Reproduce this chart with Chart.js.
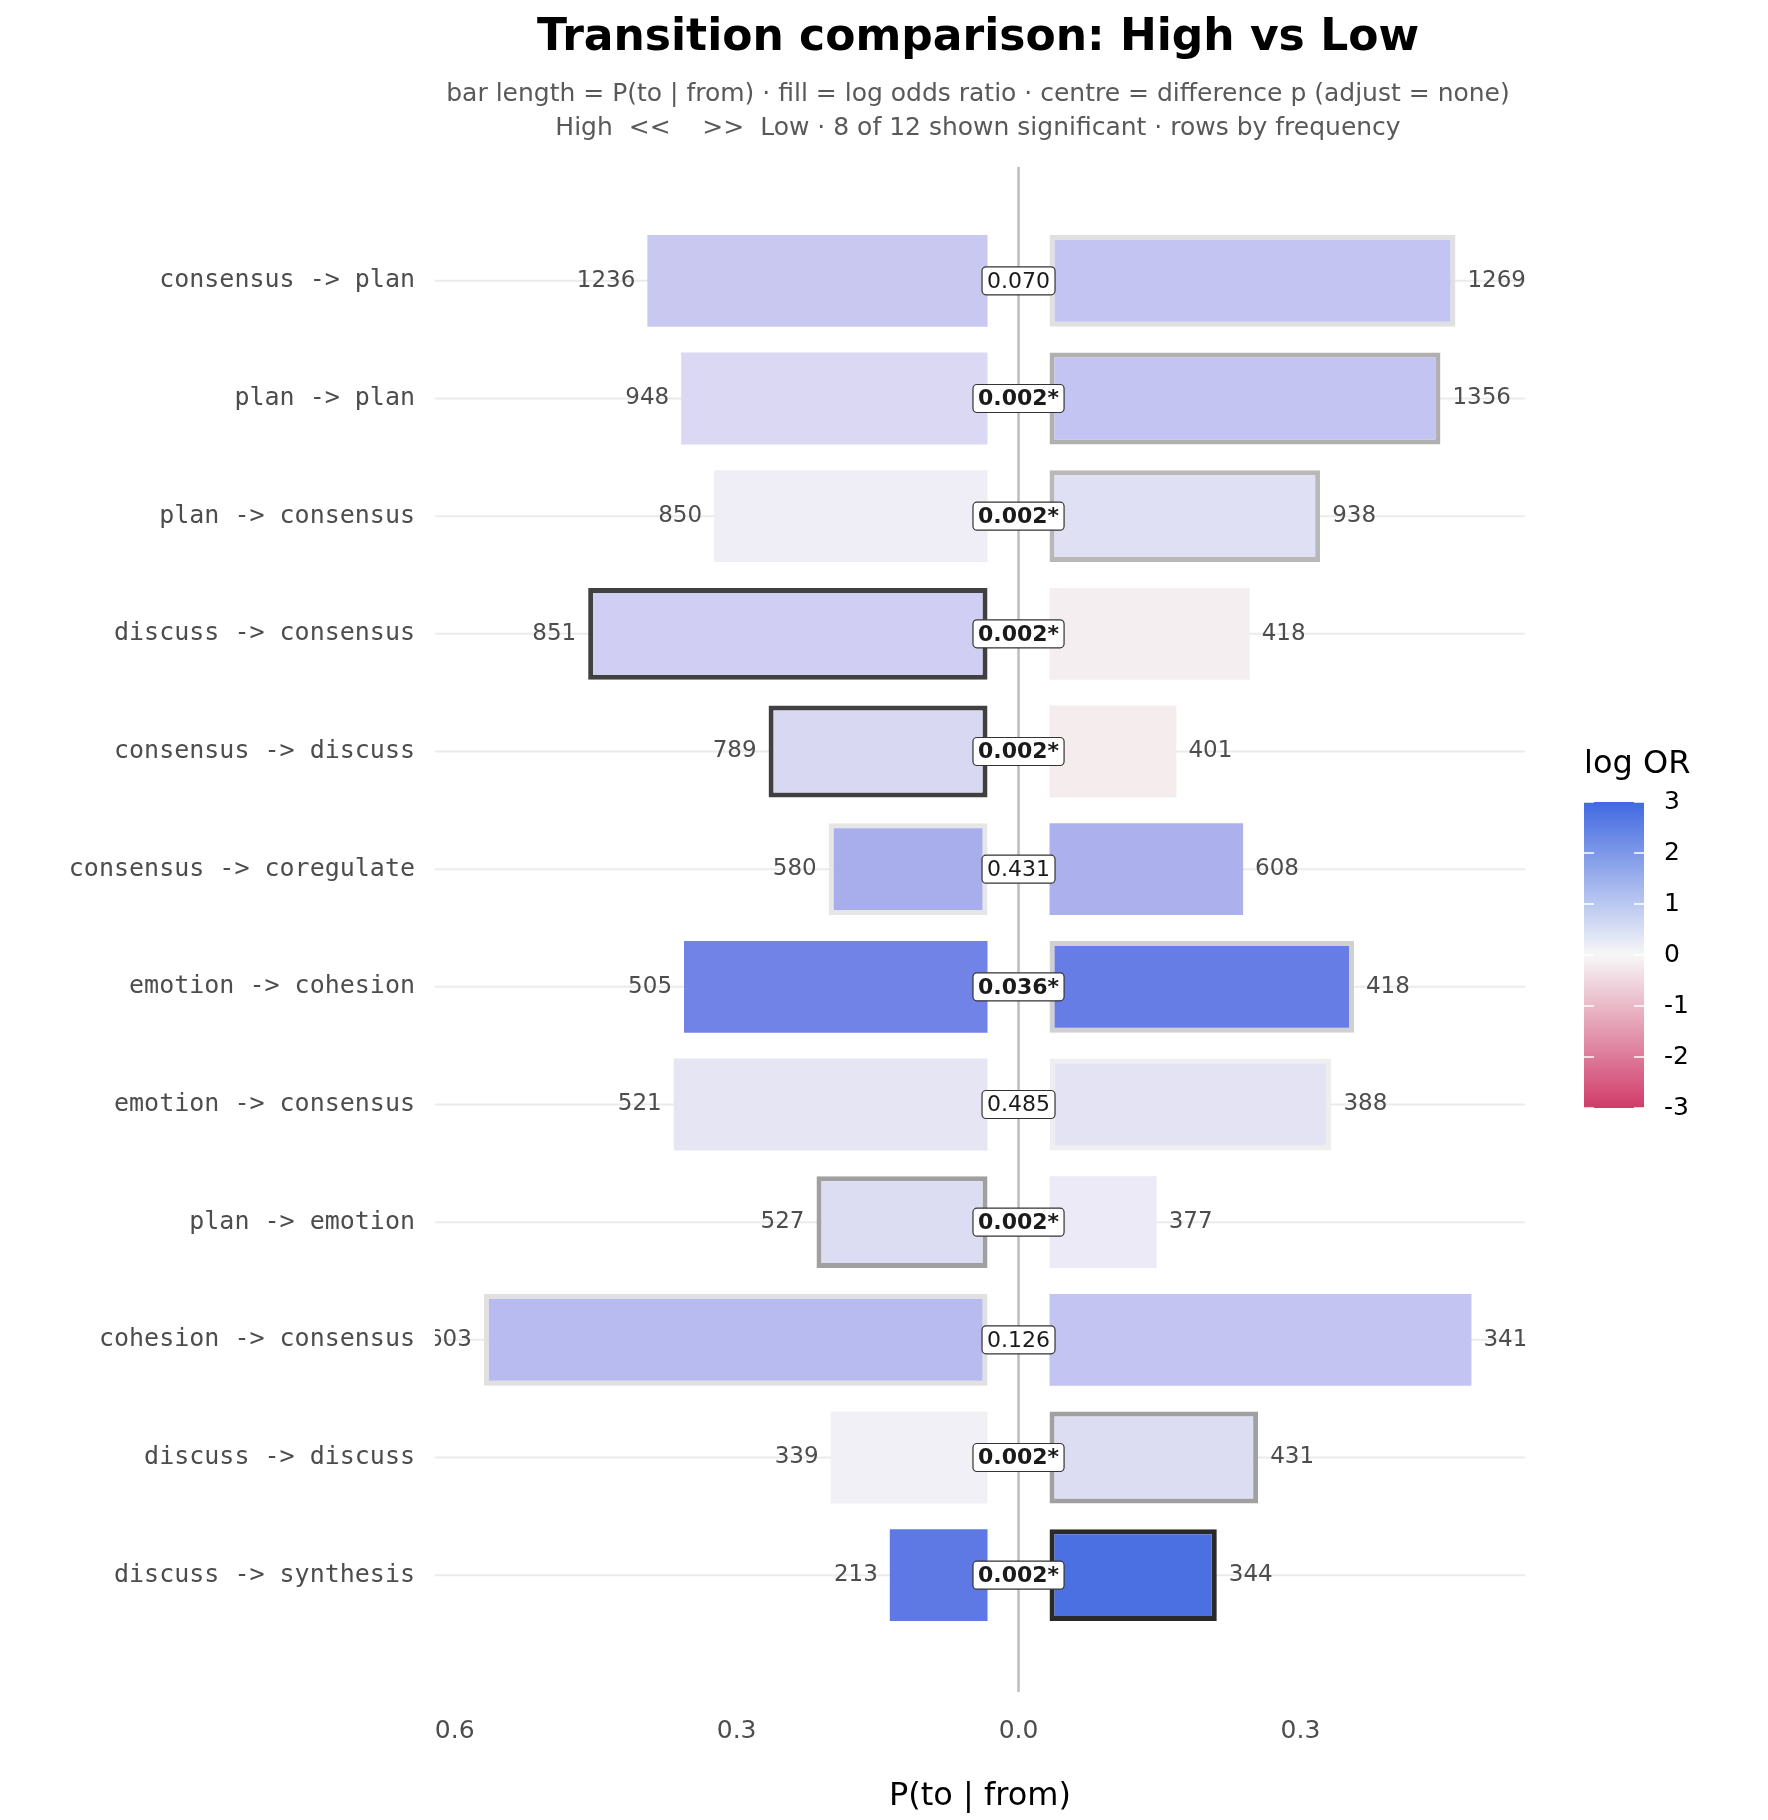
<!DOCTYPE html>
<html>
<head>
<meta charset="utf-8">
<script src="https://cdn.jsdelivr.net/npm/chart.js@4/dist/chart.umd.min.js"></script>
<style>body{margin:0;background:#fff}</style>
</head>
<body>
<canvas id="c" width="1768" height="1820"></canvas>
<script>
// Rows, top to bottom
const rows = ['consensus -> plan','plan -> plan','plan -> consensus','discuss -> consensus','consensus -> discuss','consensus -> coregulate','emotion -> cohesion','emotion -> consensus','plan -> emotion','cohesion -> consensus','discuss -> discuss','discuss -> synthesis'];
const highP = [0.362,0.326,0.291,0.425,0.233,0.169,0.323,0.334,0.182,0.536,0.167,0.104];
const lowP  = [0.432,0.416,0.288,0.213,0.135,0.206,0.324,0.300,0.114,0.449,0.222,0.178];
const highN = [1236,948,850,851,789,580,505,521,527,603,339,213];
const lowN  = [1269,1356,938,418,401,608,418,388,377,341,431,344];
const pLabels = ['0.070','0.002*','0.002*','0.002*','0.002*','0.431','0.036*','0.485','0.002*','0.126','0.002*','0.002*'];
const highFill = ['#c8c8f0','#dad8f2','#efeef6','#d0cff3','#d8d8f3','#a8aeec','#7283e8','#e6e5f4','#dcdcf3','#b8bbf0','#f1f0f6','#5e78e4'];
const lowFill  = ['#c3c4f1','#c4c4f2','#e0e0f4','#f5eef0','#f5ecee','#acb1ed','#667de6','#e4e3f4','#ebeaf6','#c3c4f1','#dcdcf3','#4a70e2'];
const highEdge = [null,null,null,'#404040','#404040','#e6e6e6',null,null,'#a0a0a0','#e0e0e0',null,null];
const lowEdge  = ['#e0e0e0','#b0b0b0','#b8b8b8',null,null,null,'#d0d0d0','#eeeeee',null,null,'#a0a0a0','#2a2a2a'];
const legendTicks = [3,2,1,0,-1,-2,-3];
const gap = 0.033;

const highBars = highP.map(p => [-gap - p, -gap]);
const lowBars = lowP.map(p => [gap, gap + p]);
const fontMono = '"DejaVu Sans Mono", monospace';
const fontSans = '"DejaVu Sans", sans-serif';

const decor = {
  id: 'decor',
  beforeDatasetsDraw(chart) {
    const {ctx, chartArea: a, scales: {x, y}} = chart;
    ctx.save();
    ctx.strokeStyle = '#ebebeb'; ctx.lineWidth = 2;
    rows.forEach((r, i) => {
      const py = y.getPixelForValue(i);
      ctx.beginPath(); ctx.moveTo(a.left, py); ctx.lineTo(a.right, py); ctx.stroke();
    });
    ctx.restore();
  },
  afterDatasetsDraw(chart) {
    const {ctx, chartArea: a, scales: {x, y}} = chart;
    ctx.save();
    // centre line
    const cx = x.getPixelForValue(0);
    ctx.strokeStyle = '#bdbdbd'; ctx.lineWidth = 2.5;
    ctx.beginPath(); ctx.moveTo(cx, 167); ctx.lineTo(cx, 1692); ctx.stroke();
    // y labels
    ctx.fillStyle = '#4d4d4d'; ctx.font = '25px ' + fontMono;
    ctx.textAlign = 'right'; ctx.textBaseline = 'middle';
    rows.forEach((r, i) => ctx.fillText(r, a.left - 20, y.getPixelForValue(i)));
    // counts, clipped to panel
    ctx.save();
    ctx.beginPath(); ctx.rect(a.left, 0, a.right - a.left, 1820); ctx.clip();
    ctx.font = '23px ' + fontSans;
    rows.forEach((r, i) => {
      const py = y.getPixelForValue(i);
      ctx.textAlign = 'right';
      ctx.fillText(highN[i], x.getPixelForValue(-gap - highP[i]) - 12, py);
      ctx.textAlign = 'left';
      ctx.fillText(lowN[i], x.getPixelForValue(gap + lowP[i]) + 12, py);
    });
    ctx.restore();
    // centre p labels
    ctx.textAlign = 'center';
    rows.forEach((r, i) => {
      const py = y.getPixelForValue(i);
      const sig = pLabels[i].endsWith('*');
      ctx.font = (sig ? 'bold ' : '') + '22px ' + fontSans;
      const w = ctx.measureText(pLabels[i]).width + 10;
      ctx.fillStyle = '#fff'; ctx.strokeStyle = '#333'; ctx.lineWidth = 1.2;
      ctx.beginPath(); ctx.roundRect(cx - w / 2, py - 14, w, 28, 4); ctx.fill(); ctx.stroke();
      ctx.fillStyle = '#1a1a1a';
      ctx.fillText(pLabels[i], cx, py + 1);
    });
    // titles
    ctx.fillStyle = '#000'; ctx.font = 'bold 44px ' + fontSans;
    ctx.fillText('Transition comparison: High vs Low', 978, 39);
    ctx.fillStyle = '#595959'; ctx.font = '25px ' + fontSans;
    ctx.fillText('bar length = P(to | from) \u00b7 fill = log odds ratio \u00b7 centre = difference p (adjust = none)', 978, 94);
    ctx.fillText('High  <<    >>  Low \u00b7 8 of 12 shown significant \u00b7 rows by frequency', 978, 128);
    // colour bar legend
    const bx = 1584, bw = 60, top = 802, bot = 1108;
    const g = ctx.createLinearGradient(0, top, 0, bot);
    g.addColorStop(0, '#4169e1'); g.addColorStop(0.5, '#f7f7f7'); g.addColorStop(1, '#d13b6a');
    ctx.fillStyle = g; ctx.fillRect(bx, top, bw, bot - top);
    ctx.fillStyle = '#000'; ctx.font = '32px ' + fontSans; ctx.textAlign = 'left';
    ctx.fillText('log OR', bx, 765);
    ctx.font = '25px ' + fontSans;
    legendTicks.forEach(t => {
      const py = top + (3 - t) / 6 * (bot - top);
      ctx.strokeStyle = '#fff'; ctx.lineWidth = 1.5;
      ctx.beginPath(); ctx.moveTo(bx, py); ctx.lineTo(bx + 10, py);
      ctx.moveTo(bx + bw - 10, py); ctx.lineTo(bx + bw, py); ctx.stroke();
      ctx.fillStyle = '#000';
      ctx.fillText(String(t), bx + bw + 20, py);
    });
    ctx.restore();
  }
};

new Chart(document.getElementById('c'), {
  type: 'bar',
  data: {
    labels: rows,
    datasets: [
      { label: 'High', data: highBars, backgroundColor: highFill,
        borderColor: highEdge.map(e => e || 'rgba(0,0,0,0)'), borderWidth: highEdge.map(e => e ? 5 : 0), borderSkipped: false },
      { label: 'Low', data: lowBars, backgroundColor: lowFill,
        borderColor: lowEdge.map(e => e || 'rgba(0,0,0,0)'), borderWidth: lowEdge.map(e => e ? 5 : 0), borderSkipped: false }
    ]
  },
  options: {
    indexAxis: 'y',
    responsive: false,
    animation: false,
    devicePixelRatio: 1,
    layout: { padding: { left: 435, right: 243, top: 222, bottom: 0 } },
    plugins: { legend: { display: false }, tooltip: { enabled: false } },
    datasets: { bar: { grouped: false, barPercentage: 0.78, categoryPercentage: 1 } },
    scales: {
      x: {
        type: 'linear', min: -0.621, max: 0.539,
        grid: { display: false }, border: { display: false },
        afterBuildTicks: s => { s.ticks = [-0.6, -0.3, 0, 0.3].map(v => ({ value: v })); },
        afterFit: s => { s.height = 186; },
        ticks: { padding: 74, color: '#4d4d4d', font: { size: 25, family: fontSans },
          callback: v => Math.abs(v).toFixed(1) },
        title: { display: true, text: 'P(to | from)', color: '#000', font: { size: 32, family: fontSans }, padding: { top: 4 } }
      },
      y: {
        grid: { display: false }, border: { display: false },
        ticks: { display: false },
        afterFit: s => { s.width = 0; }
      }
    }
  },
  plugins: [decor]
});
</script>
</body>
</html>
